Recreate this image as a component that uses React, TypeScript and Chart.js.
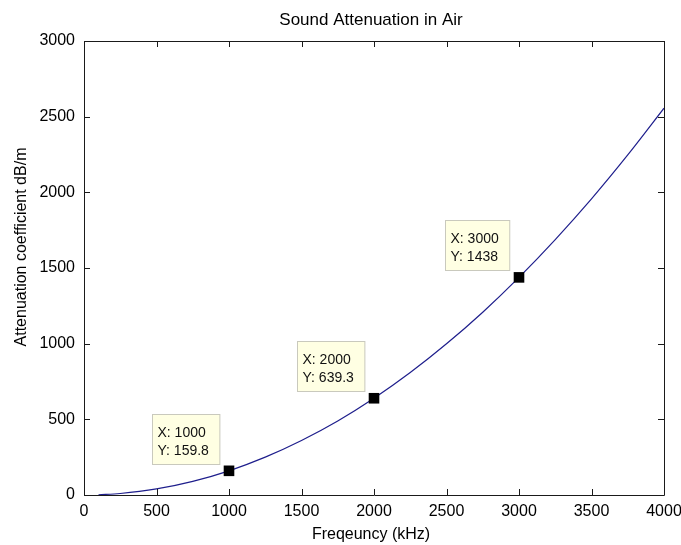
import React, { useEffect, useRef } from "react";
import { Chart, registerables } from "chart.js";

Chart.register(...registerables);

// Frequency (kHz) and attenuation (dB/m)
const frequencies = [100, 250, 500, 750, 1000, 1250, 1500, 1750, 2000, 2250, 2500, 2750, 3000, 3250, 3500, 3750, 4000];
const attenuation = [1.6, 10, 40, 90, 159.8, 250, 360, 489, 639.3, 809, 999, 1208, 1438, 1688, 1957, 2247, 2556];

// Data tips
const tipFrequencies = [1000, 2000, 3000];
const tipValues = [159.8, 639.3, 1438];
const tipXLabels = ["X: 1000", "X: 2000", "X: 3000"];
const tipYLabels = ["Y: 159.8", "Y: 639.3", "Y: 1438"];

const chartTitle = "Sound Attenuation in Air";
const xAxisTitle = "Freqeuncy (kHz)";
const yAxisTitle = "Attenuation coefficient dB/m";

const xMin = 0;
const xMax = 4000;
const xStep = 500;
const yMin = 0;
const yMax = 3000;
const yStep = 500;

const FONT = "'Liberation Sans', Arial, Helvetica, sans-serif";

const matlabPlugin = {
  id: "matlabDecor",
  afterDraw(chart: any) {
    const { ctx, chartArea, scales } = chart;
    const { left, right, top, bottom } = chartArea;
    const xs = scales.x;
    const ys = scales.y;
    ctx.save();

    // frame
    ctx.strokeStyle = "#1a1a1a";
    ctx.lineWidth = 1;
    ctx.beginPath();
    ctx.rect(Math.round(left) + 0.5, Math.round(top) + 0.5, Math.round(right - left), Math.round(bottom - top));
    ctx.stroke();

    // inward ticks
    const tl = 6;
    ctx.beginPath();
    for (let v = xMin; v <= xMax; v += xStep) {
      const px = Math.round(xs.getPixelForValue(v)) + 0.5;
      ctx.moveTo(px, bottom);
      ctx.lineTo(px, bottom - tl);
      ctx.moveTo(px, top);
      ctx.lineTo(px, top + tl);
    }
    for (let v = yMin; v <= yMax; v += yStep) {
      const py = Math.round(ys.getPixelForValue(v)) + 0.5;
      ctx.moveTo(left, py);
      ctx.lineTo(left + tl, py);
      ctx.moveTo(right, py);
      ctx.lineTo(right - tl, py);
    }
    ctx.stroke();

    // title
    ctx.fillStyle = "#000";
    ctx.font = `17px ${FONT}`;
    ctx.textAlign = "center";
    ctx.textBaseline = "middle";
    ctx.fillText(chartTitle, (left + right) / 2 - 3, 20);

    // x axis title
    ctx.font = `16px ${FONT}`;
    ctx.fillText(xAxisTitle, (left + right) / 2 - 3, 535);

    // y axis title
    ctx.save();
    ctx.translate(22, 247);
    ctx.rotate(-Math.PI / 2);
    ctx.fillText(yAxisTitle, 0, 0);
    ctx.restore();

    // data tips
    ctx.font = `14px ${FONT}`;
    ctx.textAlign = "left";
    ctx.textBaseline = "alphabetic";
    for (let i = 0; i < tipFrequencies.length; i++) {
      const mx = xs.getPixelForValue(tipFrequencies[i]);
      const my = ys.getPixelForValue(tipValues[i]);
      const w = Math.max(ctx.measureText(tipXLabels[i]).width, ctx.measureText(tipYLabels[i]).width) + 16;
      const h = 50;
      const bx = Math.round(mx - 10 - w) + 0.5;
      const by = Math.round(my - 7 - h) + 0.5;
      ctx.fillStyle = "#ffffe3";
      ctx.fillRect(bx, by, w, h);
      ctx.strokeStyle = "#c9c9bd";
      ctx.strokeRect(bx, by, w, h);
      ctx.fillStyle = "#111";
      ctx.fillText(tipXLabels[i], bx + 5, by + 22);
      ctx.fillText(tipYLabels[i], bx + 5, by + 40);
    }
    ctx.restore();
  },
};

export default function App() {
  const canvasRef = useRef<HTMLCanvasElement | null>(null);

  useEffect(() => {
    if (!canvasRef.current) return;
    const chart = new Chart(canvasRef.current, {
      type: "line",
      data: {
        datasets: [
          {
            data: tipFrequencies.map((f, i) => ({ x: f, y: tipValues[i] })),
            showLine: false,
            pointStyle: "rect",
            pointRadius: 7.5,
            pointBackgroundColor: "#000",
            pointBorderColor: "#000",
            pointBorderWidth: 0,
            order: 0,
          },
          {
            data: frequencies.map((f, i) => ({ x: f, y: attenuation[i] })),
            borderColor: "#1e1e8c",
            borderWidth: 1.2,
            pointRadius: 0,
            cubicInterpolationMode: "monotone",
            fill: false,
            order: 1,
          },
        ],
      },
      options: {
        animation: false,
        responsive: false,
        events: [],
        layout: { padding: { top: 41, right: 17, left: 0, bottom: 0 } },
        plugins: {
          legend: { display: false },
          tooltip: { enabled: false },
          title: { display: false },
        },
        scales: {
          x: {
            type: "linear",
            min: xMin,
            max: xMax,
            grid: { display: false, drawTicks: false },
            border: { display: false },
            ticks: {
              stepSize: xStep,
              padding: 7,
              color: "#000",
              font: { family: FONT, size: 16 },
              maxRotation: 0,
              callback: (v: any) => String(v),
            },
            afterFit(s: any) {
              s.height = 50;
              s.paddingLeft = 0;
              s.paddingRight = 0;
            },
          },
          y: {
            type: "linear",
            min: yMin,
            max: yMax,
            grid: { display: false, drawTicks: false },
            border: { display: false },
            ticks: {
              stepSize: yStep,
              padding: 9,
              color: "#000",
              font: { family: FONT, size: 16 },
              callback: (v: any) => String(v),
            },
            afterFit(s: any) {
              s.width = 84;
              s.paddingTop = 0;
              s.paddingBottom = 0;
            },
          },
        },
      },
      plugins: [matlabPlugin],
    });
    return () => chart.destroy();
  }, []);

  return (
    <div style={{ position: "absolute", left: 0, top: 0, width: 681, height: 545, background: "#fff" }}>
      <canvas ref={canvasRef} width={681} height={545} style={{ display: "block" }} />
    </div>
  );
}
